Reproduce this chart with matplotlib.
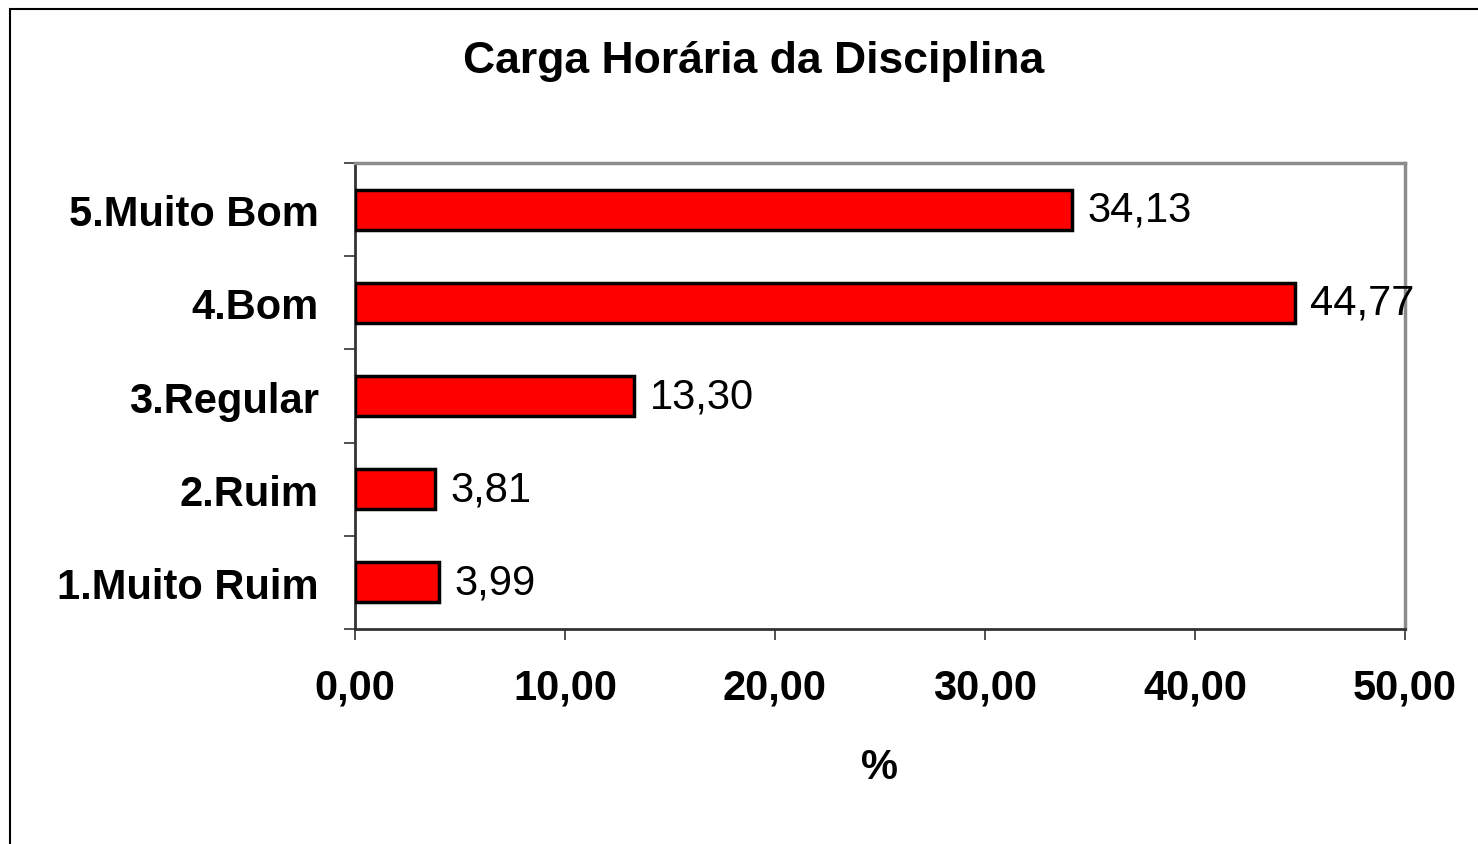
import matplotlib.pyplot as plt
import numpy as np
from matplotlib.patches import Rectangle

plt.rcParams["font.family"] = ["Liberation Sans", "DejaVu Sans"]

categories = ["1.Muito Ruim", "2.Ruim", "3.Regular", "4.Bom", "5.Muito Bom"]
values = [3.99, 3.81, 13.30, 44.77, 34.13]
xticks = [0, 10, 20, 30, 40, 50]

fig = plt.figure(figsize=(14.78, 8.45), dpi=100)
ax = fig.add_axes([355 / 1478, 1 - 630 / 845, 1050 / 1478, 466 / 845])

pos = np.arange(len(categories))
ax.barh(pos, values, height=0.43, color="#ff0000", edgecolor="black", linewidth=2.5, zorder=3)

for y, v in zip(pos, values):
    ax.annotate(f"{v:.2f}".replace(".", ","), (v, y), xytext=(11, 0),
                textcoords="offset points", va="center", ha="left", fontsize=30,
                annotation_clip=False, zorder=4)

ax.set_xlim(0, 50)
ax.set_ylim(-0.5, len(categories) - 0.5)
ax.set_xticks(xticks)
ax.set_xticklabels([f"{t:.2f}".replace(".", ",") for t in xticks], fontsize=30, fontweight="bold")
ax.tick_params(axis="x", length=8, width=1.2, direction="out", pad=20, color="#333333")

ax.set_yticks(pos)
ax.set_yticklabels(categories, fontsize=30, fontweight="bold")
ax.tick_params(axis="y", which="major", length=0, pad=26)
ax.set_yticks(np.arange(-0.5, len(categories)), minor=True)
ax.tick_params(axis="y", which="minor", length=8, width=1.2, direction="out", color="#333333")

ax.set_xlabel("%", fontsize=30, fontweight="bold", labelpad=28)

for side in ("left", "bottom"):
    ax.spines[side].set_color("#333333")
    ax.spines[side].set_linewidth(2)
for side in ("top", "right"):
    ax.spines[side].set_color("#8c8c8c")
    ax.spines[side].set_linewidth(2.5)

fig.text(754 / 1478, 1 - 62 / 845, "Carga Horária da Disciplina", ha="center", va="center",
         fontsize=32, fontweight="bold")

fig.add_artist(Rectangle((10 / 1478, -0.1), 1.5, 1.1 - 10 / 845, transform=fig.transFigure,
                         fill=False, edgecolor="black", linewidth=1.5))

fig.savefig("out.png", dpi=100)
